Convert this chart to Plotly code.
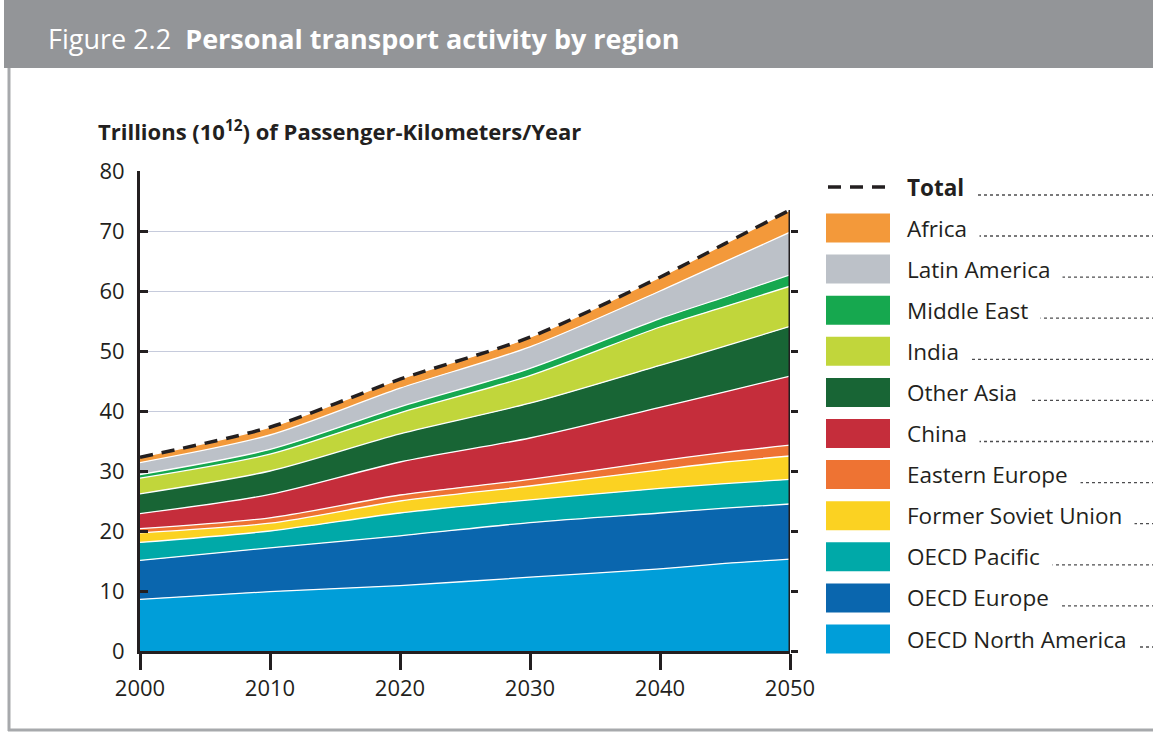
import plotly.graph_objects as go

years = [2000, 2010, 2020, 2030, 2040, 2045, 2050]

oecd_north_america = [8.6, 9.9, 10.9, 12.3, 13.7, 14.6, 15.3]
oecd_europe        = [6.5, 7.3, 8.3, 9.1, 9.3, 9.2, 9.2]
oecd_pacific       = [3.0, 2.8, 3.8, 3.8, 4.1, 4.1, 4.1]
former_soviet      = [1.6, 1.3, 2.0, 2.3, 3.1, 3.6, 3.9]
eastern_europe     = [0.7, 0.9, 1.0, 1.1, 1.5, 1.6, 1.8]
china              = [2.5, 3.9, 5.5, 6.9, 8.9, 10.1, 11.5]
other_asia         = [3.3, 3.9, 4.7, 5.8, 7.0, 7.6, 8.3]
india              = [2.6, 2.8, 3.5, 4.6, 6.4, 6.6, 6.7]
middle_east        = [0.6, 0.8, 1.0, 1.2, 1.4, 1.6, 1.9]
latin_america      = [2.0, 2.4, 3.1, 3.6, 4.6, 5.9, 7.1]
africa             = [0.9, 1.3, 1.5, 1.6, 2.3, 3.0, 3.7]

series_names = ["OECD North America", "OECD Europe", "OECD Pacific",
                "Former Soviet Union", "Eastern Europe", "China", "Other Asia",
                "India", "Middle East", "Latin America", "Africa"]
series_values = [oecd_north_america, oecd_europe, oecd_pacific, former_soviet,
                 eastern_europe, china, other_asia, india, middle_east,
                 latin_america, africa]
colors = ["#009ed9", "#0a66ae", "#00a9a8", "#fbd222", "#ee7333", "#c52d3b",
          "#186535", "#c1d63b", "#16a84f", "#bcc1c8", "#f3993a"]

x_ticks = [2000, 2010, 2020, 2030, 2040, 2050]
y_ticks = [0, 10, 20, 30, 40, 50, 60, 70, 80]
right_ticks = [0, 10, 20, 30, 40, 50, 60, 70]

title_text = "Figure 2.2&nbsp;&nbsp;<b>Personal transport activity by region</b>"
ytitle_text = "<b>Trillions (10<sup>12</sup>) of Passenger-Kilometers/Year</b>"

total = [round(sum(v[i] for v in series_values), 2) for i in range(len(years))]

W, H = 1153, 735
L, R, T, B = 140, 363, 171, 84
PW, PH = W - L - R, H - T - B


def px(x):
    return (x - L) / PW


def py(y):
    return (H - B - y) / PH


FONT = "Open Sans"
TXT = "#231f20"
SMOOTH = 0.8

fig = go.Figure()
for name, vals, col in zip(series_names, series_values, colors):
    fig.add_trace(go.Scatter(
        x=years, y=vals, name=name, stackgroup="one", mode="lines",
        line=dict(color="white", width=1.3, shape="spline", smoothing=SMOOTH),
        fillcolor=col, hoverinfo="skip", showlegend=False))

fig.add_trace(go.Scatter(
    x=years, y=total, name="Total", mode="lines",
    line=dict(color=TXT, width=3.5, dash="13px,9px", shape="spline", smoothing=SMOOTH),
    hoverinfo="skip", showlegend=False))

# invisible trace for the right-hand tick axis
fig.add_trace(go.Scatter(x=[years[0]], y=[0], yaxis="y2", mode="markers",
                         marker=dict(opacity=0), hoverinfo="skip", showlegend=False))

shapes = []
annotations = []

# header band
shapes.append(dict(type="rect", xref="paper", yref="paper",
                   x0=px(4), x1=px(W + 10), y0=py(68), y1=py(-10),
                   fillcolor="#939598", line=dict(width=0)))
# frame lines
shapes.append(dict(type="line", xref="paper", yref="paper",
                   x0=px(9), x1=px(9), y0=py(68), y1=py(731),
                   line=dict(color="#a7a9ac", width=3)))
shapes.append(dict(type="line", xref="paper", yref="paper",
                   x0=px(8), x1=px(W + 5), y0=py(730), y1=py(730),
                   line=dict(color="#a7a9ac", width=3)))
# right edge of the area
shapes.append(dict(type="line", xref="x", yref="y",
                   x0=years[-1], x1=years[-1], y0=0, y1=total[-1],
                   line=dict(color=TXT, width=3)))

annotations.append(dict(text=title_text, xref="paper", yref="paper",
                        x=px(46), y=py(38), xanchor="left", yanchor="middle",
                        showarrow=False, font=dict(family=FONT, size=27, color="white")))
annotations.append(dict(text=ytitle_text, xref="paper", yref="paper",
                        x=px(96), y=py(130), xanchor="left", yanchor="middle",
                        showarrow=False, font=dict(family=FONT, size=22, color=TXT)))

# custom legend
step = 41.1
legend_rows = [("Total", None)] + list(zip(series_names[::-1], colors[::-1]))
for i, (name, col) in enumerate(legend_rows):
    yc = 187 if i == 0 else 228 + (i - 1) * step
    # dotted leader (covered by the label's white box)
    shapes.append(dict(type="line", xref="paper", yref="paper",
                       x0=px(906), x1=px(W + 5), y0=py(yc + 8), y1=py(yc + 8),
                       line=dict(color="#4d4d4f", width=1.3, dash="3px,3px")))
    if col is None:
        shapes.append(dict(type="line", xref="paper", yref="paper",
                           x0=px(828), x1=px(890), y0=py(yc), y1=py(yc),
                           line=dict(color=TXT, width=3.5, dash="13px,9px")))
        label = "<b>" + name + "</b>"
    else:
        shapes.append(dict(type="rect", xref="paper", yref="paper",
                           x0=px(826), x1=px(890), y0=py(yc - 14.5), y1=py(yc + 14.5),
                           fillcolor=col, line=dict(width=0)))
        label = name
    annotations.append(dict(text=label, xref="paper", yref="paper",
                            x=px(894), y=py(yc), xanchor="left", yanchor="middle",
                            showarrow=False, align="left", bgcolor="white",
                            borderpad=12,
                            font=dict(family=FONT, size=22.5, color=TXT)))

fig.update_layout(
    width=W, height=H,
    margin=dict(l=L, r=R, t=T, b=B, pad=0),
    paper_bgcolor="white", plot_bgcolor="white",
    font=dict(family=FONT, color=TXT),
    shapes=shapes, annotations=annotations,
    xaxis=dict(range=[2000, 2050], tickvals=x_ticks, ticks="outside", ticklen=16,
               tickwidth=2.5, tickcolor=TXT, showline=True, linewidth=3, linecolor=TXT,
               showgrid=False, zeroline=False, tickfont=dict(size=22, color=TXT),
               fixedrange=True),
    yaxis=dict(range=[0, 80], tickvals=y_ticks, ticks="inside", ticklen=8,
               tickwidth=2.5, tickcolor=TXT, showline=True, linewidth=3, linecolor=TXT,
               showgrid=True, gridcolor="#c6cbdc", gridwidth=1, zeroline=False,
               tickfont=dict(size=22, color=TXT), ticklabelstandoff=8, fixedrange=True),
    yaxis2=dict(range=[0, 80], tickvals=right_ticks, overlaying="y", side="right",
                ticks="outside", ticklen=7, tickwidth=2.5, tickcolor=TXT,
                showline=False, showgrid=False, zeroline=False,
                showticklabels=False, fixedrange=True),
)

fig.write_html("out.html", config={"displayModeBar": False},
               post_script="document.body.style.margin='0';document.body.style.overflow='hidden';")
